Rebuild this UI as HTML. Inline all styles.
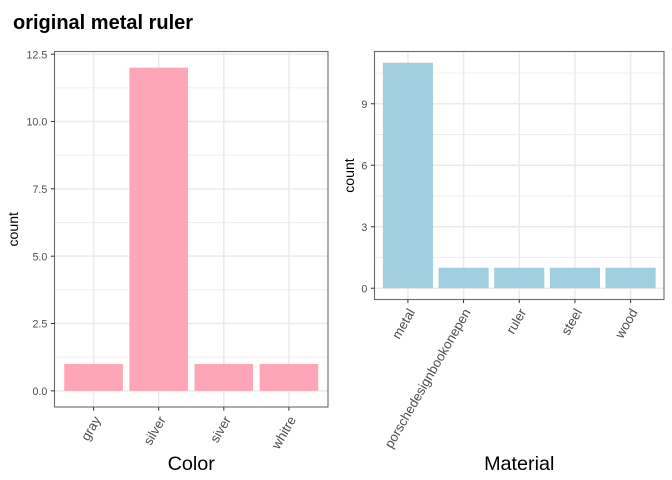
<!DOCTYPE html>
<html>
<head>
<meta charset="utf-8">
<title>original metal ruler</title>
<style>
html,body{margin:0;padding:0;background:#fff;width:672px;height:480px;overflow:hidden}
svg{display:block}
text{font-family:"Liberation Sans",Arial,sans-serif}
</style>
</head>
<body>
<svg id="chart" xmlns="http://www.w3.org/2000/svg" width="672" height="480" viewBox="0 0 672 480">
<rect x="0" y="0" width="672" height="480" fill="#fff"/>
<text x="13" y="29" font-size="20" font-weight="bold" fill="#000">original metal ruler</text>
</svg>
<script>
const colorCategories = ['gray', 'silver', 'siver', 'whitre'];
const colorCounts = [1, 12, 1, 1];
const colorTicks = [0, 2.5, 5, 7.5, 10, 12.5];
const colorTickLabels = ['0.0', '2.5', '5.0', '7.5', '10.0', '12.5'];
const colorMinorTicks = [1.25, 3.75, 6.25, 8.75, 11.25];

const materialCategories = ['metal', 'porschedesignbookonepen', 'ruler', 'steel', 'wood'];
const materialCounts = [11, 1, 1, 1, 1];
const materialTicks = [0, 3, 6, 9];
const materialTickLabels = ['0', '3', '6', '9'];
const materialMinorTicks = [1.5, 4.5, 7.5, 10.5];

const svg = document.getElementById('chart');
const NS = 'http://www.w3.org/2000/svg';

function add(parent, tag, attrs, text) {
  const el = document.createElementNS(NS, tag);
  for (const k in attrs) el.setAttribute(k, attrs[k]);
  if (text !== undefined) el.textContent = text;
  parent.appendChild(el);
  return el;
}

function drawPanel(cfg) {
  const g = add(svg, 'g', {});
  
  

  const n = cfg.categories.length;
  const xUnit = (cfg.right - cfg.left) / (n - 1 + 2 * 0.6);
  const xScale = i => cfg.left + (0.6 + i) * xUnit;
  const yMax = Math.max.apply(null, cfg.values);
  const yUnit = (cfg.bottom - cfg.top) / (yMax * 1.1);
  const yZero = cfg.bottom - yMax * 0.05 * yUnit;
  const yScale = v => yZero - v * yUnit;

  cfg.minor.forEach(v => {
    const y = yScale(v);
    if (y < cfg.top) return;
    const line = add(g, 'line', {x1: cfg.left, x2: cfg.right, y1: y, y2: y, stroke: '#eeeeee', 'stroke-width': 0.9});
    
    
  });
  cfg.ticks.forEach(v => {
    const y = yScale(v);
    const line = add(g, 'line', {x1: cfg.left, x2: cfg.right, y1: y, y2: y, stroke: '#ebebeb', 'stroke-width': 1.5});
    
    
  });
  cfg.categories.forEach((c, i) => {
    const x = xScale(i);
    const line = add(g, 'line', {x1: x, x2: x, y1: cfg.top, y2: cfg.bottom, stroke: '#ebebeb', 'stroke-width': 1.5});
    
    
  });

  cfg.values.forEach((v, i) => {
    const w = 0.9 * xUnit;
    const bar = add(g, 'rect', {x: xScale(i) - w / 2, y: yScale(v), width: w, height: yZero - yScale(v), fill: cfg.fill});
    
    
  });

  const border = add(g, 'rect', {x: cfg.left, y: cfg.top, width: cfg.right - cfg.left, height: cfg.bottom - cfg.top, fill: 'none', stroke: '#6a6a6a', 'stroke-width': 1.1});
  
  

  cfg.ticks.forEach((v, i) => {
    const y = yScale(v);
    const tick = add(g, 'line', {x1: cfg.left - 3.6, x2: cfg.left, y1: y, y2: y, stroke: '#333', 'stroke-width': 1});
    
    
    const label = add(g, 'text', {x: cfg.left - 7.2, y: y + 4.2, 'text-anchor': 'end', 'font-size': 10.7, fill: '#4d4d4d'}, cfg.tickLabels[i]);
    
    
  });

  cfg.categories.forEach((c, i) => {
    const x = xScale(i);
    const tick = add(g, 'line', {x1: x, x2: x, y1: cfg.bottom, y2: cfg.bottom + 3.6, stroke: '#333', 'stroke-width': 1});
    
    
    const ax = x + 7.5;
    const ay = cfg.bottom + 12.5;
    const label = add(g, 'text', {x: ax, y: ay, 'text-anchor': 'end', 'font-size': 13.2, fill: '#4d4d4d', transform: 'rotate(-60 ' + ax + ' ' + ay + ')'}, c);
    
    
  });

  const midY = (cfg.top + cfg.bottom) / 2;
  const yTitle = add(g, 'text', {x: cfg.yTitleX, y: midY, 'text-anchor': 'middle', 'font-size': 14.1, fill: '#000', transform: 'rotate(-90 ' + cfg.yTitleX + ' ' + midY + ')'}, 'count');
  
  

  const xTitle = add(g, 'text', {x: (cfg.left + cfg.right) / 2, y: 470, 'text-anchor': 'middle', 'font-size': 19.8, fill: '#000'}, cfg.xTitle);
  
  
}

drawPanel({
  name: 'color', left: 54.5, right: 328, top: 51.5, bottom: 407,
  categories: colorCategories, values: colorCounts,
  ticks: colorTicks, tickLabels: colorTickLabels, minor: colorMinorTicks,
  fill: '#FEA5B7', xTitle: 'Color', yTitleX: 18
});
drawPanel({
  name: 'material', left: 374.5, right: 664, top: 51.5, bottom: 299.5,
  categories: materialCategories, values: materialCounts,
  ticks: materialTicks, tickLabels: materialTickLabels, minor: materialMinorTicks,
  fill: '#A0CFE1', xTitle: 'Material', yTitleX: 354
});
</script>
</body>
</html>
